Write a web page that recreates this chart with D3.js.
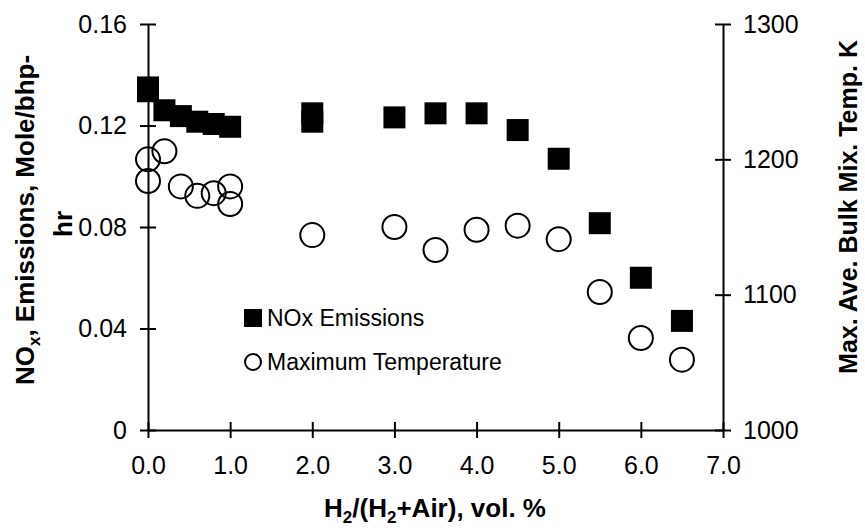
<!DOCTYPE html>
<html><head><meta charset="utf-8">
<script src="https://cdn.jsdelivr.net/npm/d3@7"></script>
<style>body{margin:0;background:#fff}svg{display:block}</style>
</head><body>
<script>
const noxX = [0, 0, 0.2, 0.4, 0.6, 0.8, 1.0, 2.0, 2.0, 3.0, 3.5, 4.0, 4.5, 5.0, 5.5, 6.0, 6.5];
const noxY = [0.135, 0.1335, 0.126, 0.1237, 0.1215, 0.1206, 0.1195, 0.1248, 0.1215, 0.1232, 0.1248, 0.1248, 0.1182, 0.1069, 0.0815, 0.0600, 0.0430];
const tempX = [0, 0, 0.2, 0.4, 0.6, 0.8, 1.0, 1.0, 2.0, 3.0, 3.5, 4.0, 4.5, 5.0, 5.5, 6.0, 6.5];
const tempY = [1200, 1184, 1206, 1180, 1173, 1175, 1180, 1167, 1144, 1150, 1133, 1148, 1151, 1141, 1102, 1068, 1052];
const xTicks = [0, 1, 2, 3, 4, 5, 6, 7];
const xTickLabels = ["0.0", "1.0", "2.0", "3.0", "4.0", "5.0", "6.0", "7.0"];
const yLTicks = [0, 0.04, 0.08, 0.12, 0.16];
const yLTickLabels = ["0", "0.04", "0.08", "0.12", "0.16"];
const yRTicks = [1000, 1100, 1200, 1300];
const yRTickLabels = ["1000", "1100", "1200", "1300"];
const legendLabels = ["NOx Emissions", "Maximum Temperature"];

const W = 865, H = 531;
const L = 148, R = 723, T = 24, B = 430;
const font = "'Liberation Sans', Arial, sans-serif";

const svg = d3.select("body").append("svg").attr("width", W).attr("height", H)
  .style("font-family", font);

const x = d3.scaleLinear().domain([0, 7]).range([L, R]);
const yL = d3.scaleLinear().domain([0, 0.16]).range([B, T]);
const yR = d3.scaleLinear().domain([1000, 1300]).range([B, T]);

function styleAxis(g) {
  g.selectAll("path.domain").attr("stroke", "#000").attr("stroke-width", 2);
  g.selectAll(".tick line").attr("stroke", "#000").attr("stroke-width", 2);
  g.selectAll(".tick text").attr("fill", "#000").style("font-size", "25px").style("font-family", font);
}

// x axis
const gx = svg.append("g").attr("transform", `translate(0,${B})`)
  .call(d3.axisBottom(x).tickValues(xTicks).tickFormat((d, i) => xTickLabels[i]).tickSizeInner(8).tickSizeOuter(0).tickPadding(18));
gx.selectAll(".tick line").attr("y1", -8);
styleAxis(gx);

// left axis
const gl = svg.append("g").attr("transform", `translate(${L},0)`)
  .call(d3.axisLeft(yL).tickValues(yLTicks).tickFormat((d, i) => yLTickLabels[i]).tickSizeInner(8).tickSizeOuter(0).tickPadding(13));
gl.selectAll(".tick line").attr("x1", 8);
styleAxis(gl);

// right axis
const gr = svg.append("g").attr("transform", `translate(${R},0)`)
  .call(d3.axisRight(yR).tickValues(yRTicks).tickFormat((d, i) => yRTickLabels[i]).tickSizeInner(8).tickSizeOuter(0).tickPadding(12));
gr.selectAll(".tick line").attr("x1", -8);
styleAxis(gr);

// circles (temperature)
const tempData = tempX.map((v, i) => ({x: v, y: tempY[i]}));
svg.append("g").selectAll("circle").data(tempData).join("circle")
  .attr("cx", d => x(d.x)).attr("cy", d => yR(d.y)).attr("r", 12)
  .attr("fill", "none").attr("stroke", "#000").attr("stroke-width", 2);

// squares (NOx)
const sq = 22;
const noxData = noxX.map((v, i) => ({x: v, y: noxY[i]}));
svg.append("g").selectAll("rect").data(noxData).join("rect")
  .attr("x", d => x(d.x) - sq / 2).attr("y", d => yL(d.y) - sq / 2)
  .attr("width", sq).attr("height", sq).attr("fill", "#000");

// legend
const lg = svg.append("g");
lg.append("rect").attr("x", 244).attr("y", 309).attr("width", 18).attr("height", 18).attr("fill", "#000");
lg.append("text").attr("x", 267).attr("y", 326).style("font-size", "23px").text(legendLabels[0]);
lg.append("circle").attr("cx", 253).attr("cy", 362).attr("r", 8).attr("fill", "none").attr("stroke", "#000").attr("stroke-width", 2);
lg.append("text").attr("x", 267).attr("y", 370).style("font-size", "23px").text(legendLabels[1]);

// x title
const xt = svg.append("text").attr("x", 435).attr("y", 517).attr("text-anchor", "middle")
  .style("font-size", "26px").style("font-weight", "bold");
xt.append("tspan").text("H");
xt.append("tspan").text("2").style("font-size", "17px").attr("dy", 6);
xt.append("tspan").text("/(H").attr("dy", -6);
xt.append("tspan").text("2").style("font-size", "17px").attr("dy", 6);
xt.append("tspan").text("+Air), vol. %").attr("dy", -6);

// left title
const lt = svg.append("text").attr("transform", `translate(34,220) rotate(-90)`).attr("text-anchor", "middle")
  .style("font-size", "26px").style("font-weight", "bold");
lt.append("tspan").text("NO");
lt.append("tspan").text("x").style("font-size", "17px").attr("dy", 6);
lt.append("tspan").text(", Emissions, Mole/bhp-").attr("dy", -6);
svg.append("text").attr("transform", `translate(72,224) rotate(-90)`).attr("text-anchor", "middle")
  .style("font-size", "26px").style("font-weight", "bold").text("hr");

// right title
svg.append("text").attr("transform", `translate(857,207) rotate(-90)`).attr("text-anchor", "middle")
  .style("font-size", "25px").style("font-weight", "bold").text("Max. Ave. Bulk Mix. Temp. K");
</script>
</body></html>
